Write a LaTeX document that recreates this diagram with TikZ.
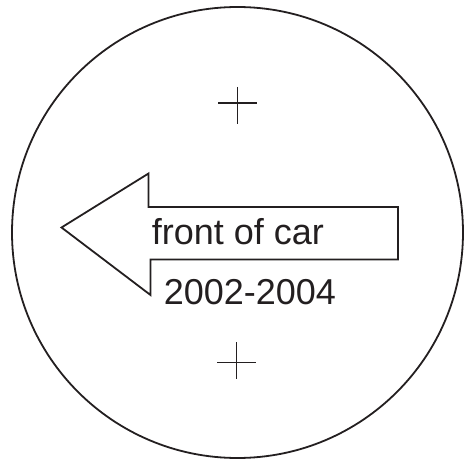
\documentclass[tikz,border=0pt]{standalone}
\usepackage{fontspec}
\setmainfont{Liberation Sans}
\usepackage{tikz}
\usetikzlibrary{positioning, calc}
\definecolor{ink}{HTML}{231F20}

\begin{document}
\begin{tikzpicture}[x=1pt, y=-1pt, line width=1.8pt, draw=ink,
  label/.style={anchor=base west, inner sep=0pt, text=ink, font=\fontsize{36}{36}\selectfont}]
  \useasboundingbox (0,0) rectangle (475,460);

  % Outer circle
  \draw (237.5,232.5) circle (225.5);

  % Mounting marks
  \draw (218,103) -- (257,103);
  \draw (237.5,87) -- (237.5,124);
  \draw (217,362.5) -- (256,362.5);
  \draw (236.5,342) -- (236.5,379);

  % Arrow
  \draw[line join=miter] (61.5,227.5) -- (148.5,173.5) -- (148.5,207) -- (398,207)
    -- (398,259.5) -- (150.5,259.5) -- (150.5,295) -- cycle;

  % Labels
  \node[label] (front) at (151,245) {front of car};
  \node[label] (years) at (163,305) {2002-2004};
\end{tikzpicture}
\end{document}
